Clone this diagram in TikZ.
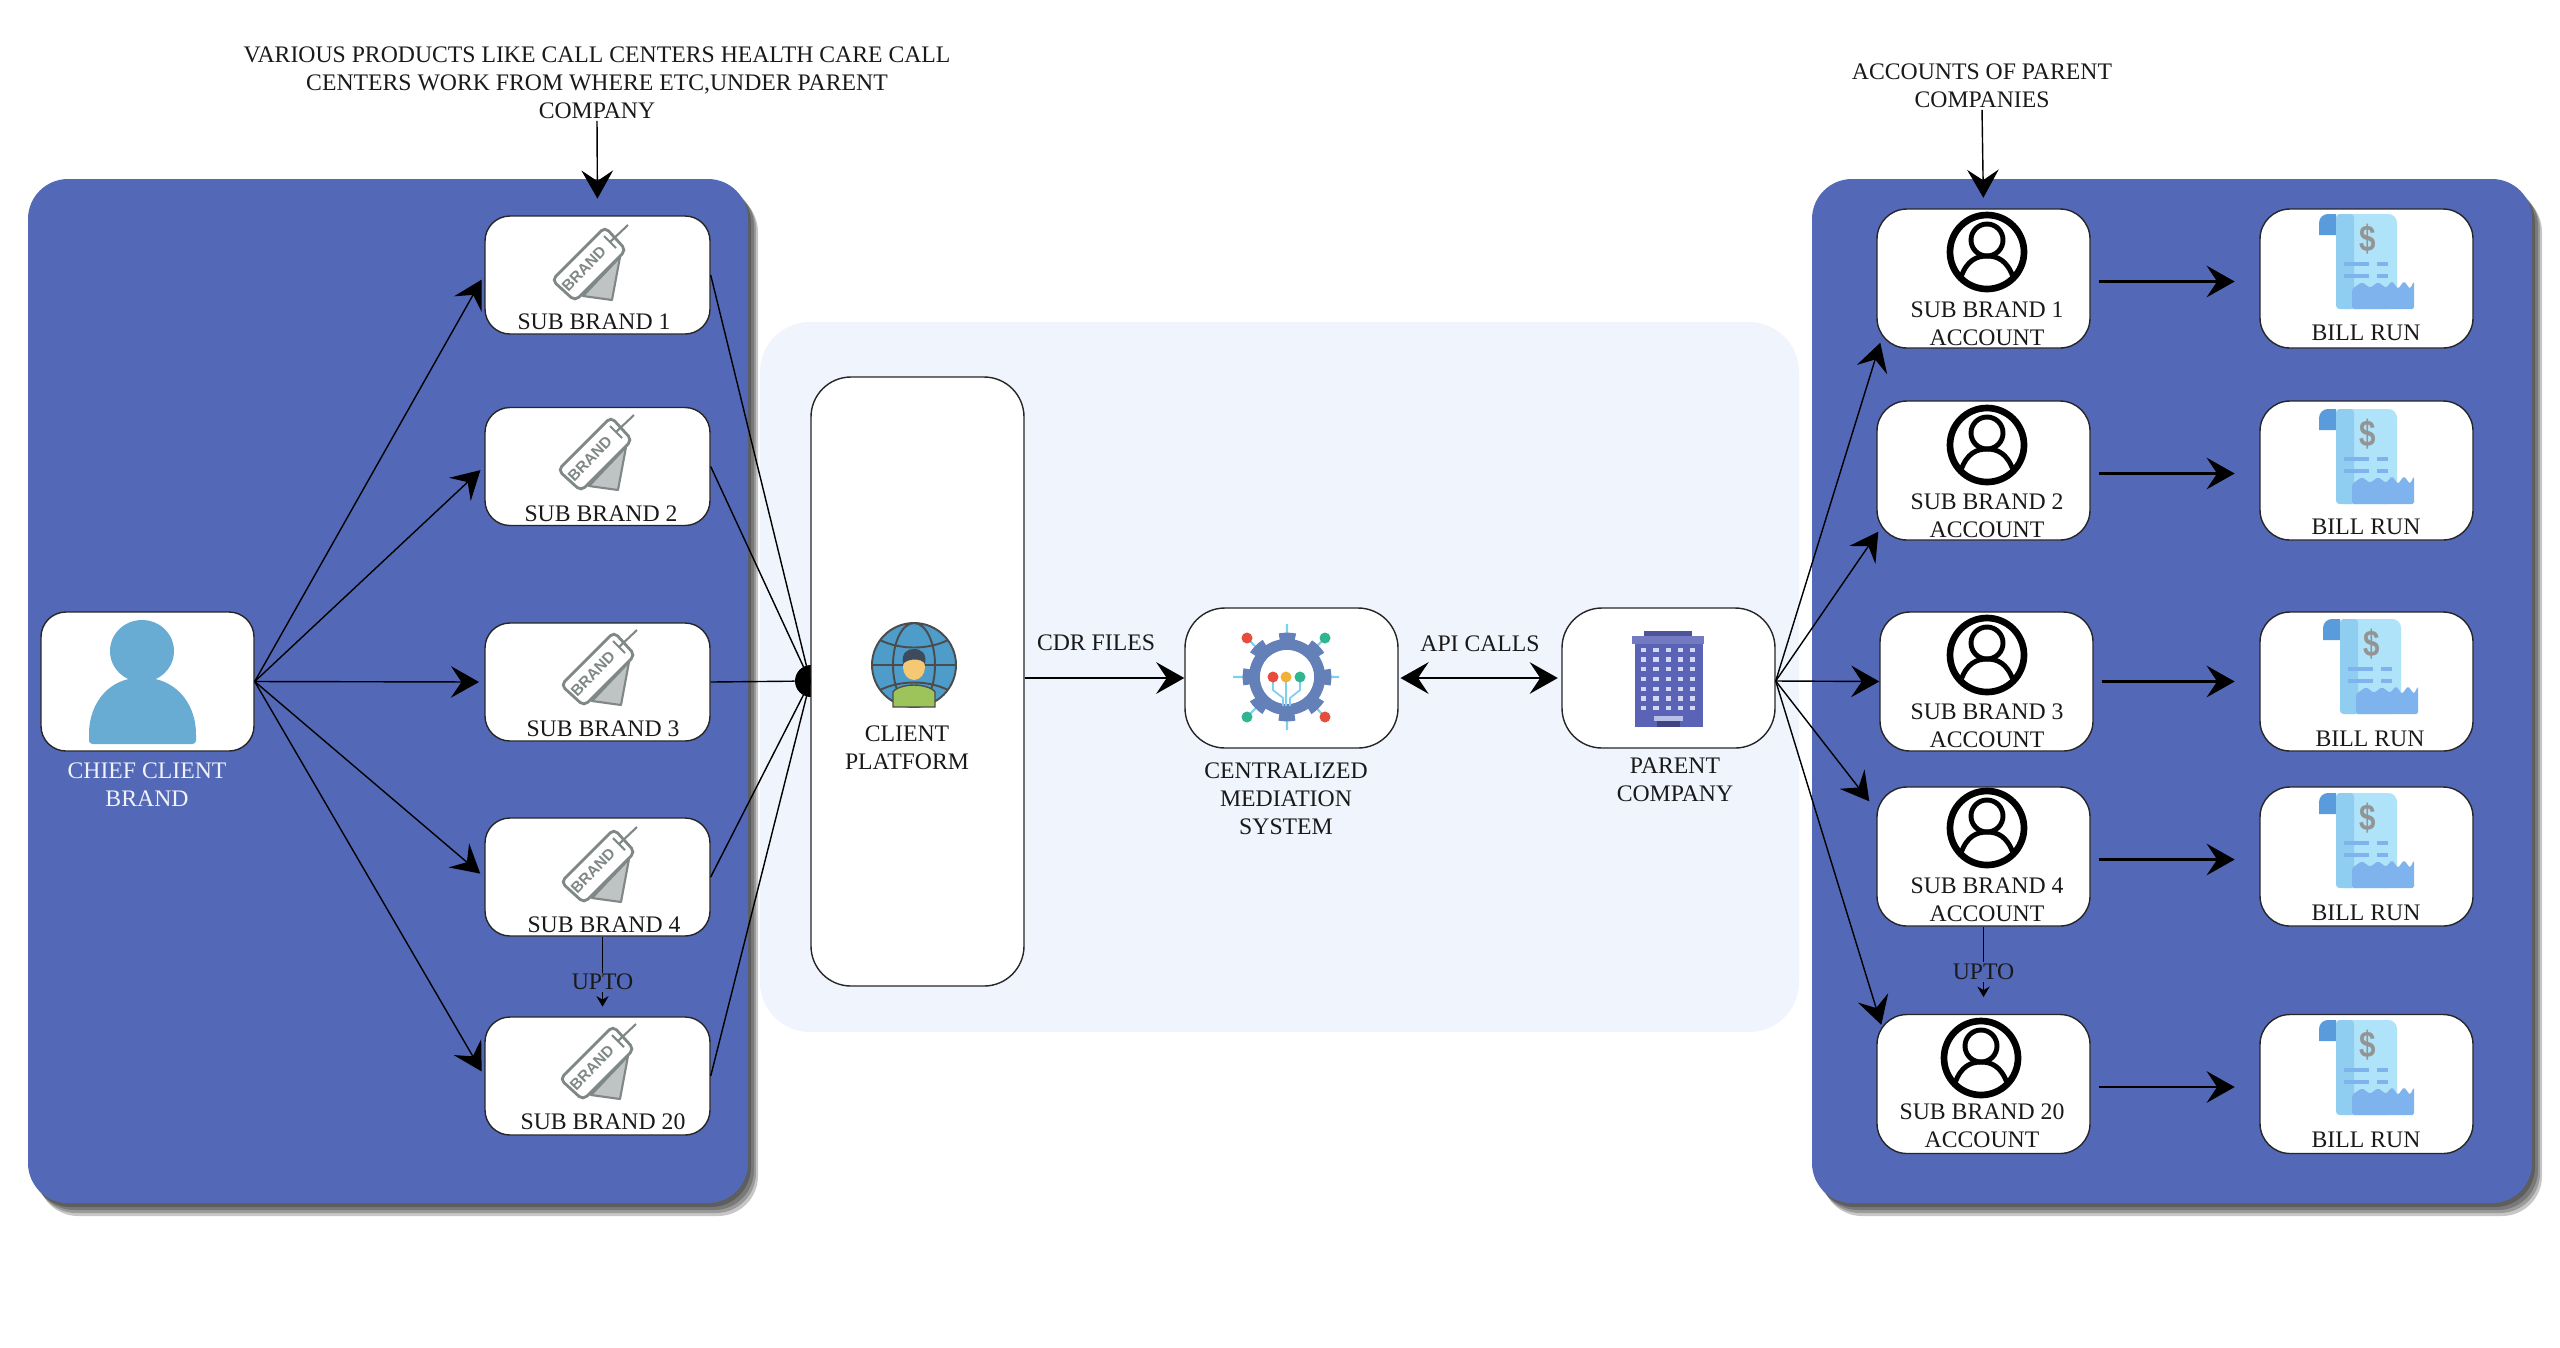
\documentclass[tikz,border=0pt]{standalone}
\usepackage{fontspec}
\setmainfont{Liberation Serif}
\setsansfont{Liberation Sans}
\usetikzlibrary{arrows.meta}
\newcommand{\Px}{0.02cm}
\definecolor{PanelBlue}{HTML}{5369B7}
\definecolor{PalePanel}{HTML}{EFF4FD}
\definecolor{TagGrey}{HTML}{7F8787}
\definecolor{PersonBlue}{HTML}{68ACD4}
\definecolor{Paper}{HTML}{AEE3F9}
\definecolor{PaperDark}{HTML}{8FCEF1}
\definecolor{PaperEdge}{HTML}{7FB3EE}
\definecolor{CurlBlue}{HTML}{5A9BDC}
\definecolor{GearBlue}{HTML}{6480B8}
\definecolor{Tower}{HTML}{5B63B7}
\definecolor{GlobeBlue}{HTML}{4E9CC9}
\definecolor{ShirtGreen}{HTML}{9CC45A}
\definecolor{Skin}{HTML}{F7C873}
\definecolor{Hair}{HTML}{3D4C5C}
\definecolor{TraceBlue}{HTML}{7FD0EE}
\definecolor{DotRed}{HTML}{E74C3C}
\definecolor{DotYellow}{HTML}{F2B134}
\definecolor{DotGreen}{HTML}{2FB58F}
\definecolor{WindowPale}{HTML}{D3D9F4}
\definecolor{DoorPale}{HTML}{B9C0E8}
\tikzset{
  Panel/.style={fill=PanelBlue, draw=none, rounded corners=0.8cm, minimum width=720*\Px, minimum height=1024*\Px},
  Shade/.style={fill=black, draw=none, opacity=0.22, rounded corners=0.8cm, minimum width=720*\Px, minimum height=1024*\Px},
  Card/.style={draw=black!85, line width=0.8pt, fill=white, rounded corners=0.5cm, minimum width=225*\Px, minimum height=118*\Px, inner sep=0pt},
  AccountCard/.style={Card, rounded corners=0.6cm, minimum width=213*\Px, minimum height=139*\Px},
  BigCard/.style={Card, rounded corners=0.8cm, minimum width=213*\Px, minimum height=140*\Px},
  Caption/.style={font=\fontsize{13.5}{16}\selectfont, align=center, text=black!90, inner sep=0pt, yshift=-1pt},
  Link/.style={draw=black, line width=0.8pt},
  Arrow/.style={Link, -{Stealth[length=16pt,width=18pt,inset=6pt]}, shorten >=3pt},
  BoldArrow/.style={Arrow, line width=1.3pt, shorten <=4.5pt, shorten >=14pt},
  UptoArrow/.style={Link, -{Stealth[length=6pt,width=7pt,inset=2pt]}},
  BrandTag/.pic={
    \draw[fill=TagGrey!50, draw=TagGrey, line width=1.2pt, line join=round] (30,-6) -- (-7,33) -- (22,37) -- cycle;
    \draw[fill=white, draw=TagGrey, line width=1.6pt, rounded corners=3pt] (-38,17) -- (-15,38) -- (36,-13) -- (15,-36) -- cycle;
    \draw[TagGrey, line width=1.2pt] (20,-21) -- (38,-38) (14,-27) -- (26,-15);
    \node[rotate=46, inner sep=0pt, text=TagGrey, font=\fontsize{8.8}{9}\bfseries\sffamily\selectfont] (-word) at (-6,6) {BRAND};
  },
  AccountMan/.pic={
    \draw[line width=3.8pt] (0,0) circle[radius=37];
    \draw[line width=2.8pt] (0,-12) ellipse[x radius=16, y radius=16];
    \draw[line width=2.8pt] (-26,25) .. controls (-20,8) and (-10,4) .. (0,4) .. controls (10,4) and (20,8) .. (26,25);
  },
  BillIcon/.pic={
    \fill[CurlBlue] (-47,-26) -- (-47,-38) .. controls (-47,-44) and (-42,-47) .. (-38,-47) -- (-30,-47) -- (-30,-26) -- cycle;
    \fill[Paper, rounded corners=5pt] (-30,-47) -- (31,-47) -- (31,48) -- (-30,48) -- cycle;
    \fill[PaperDark, rounded corners=2pt] (-30,-47) -- (-12,-47) -- (-12,48) -- (-30,48) -- cycle;
    \fill[PaperEdge, rounded corners=1pt] (-14,48) -- (48,48) -- (48,20) -- (44,28) -- (38,20) -- (32,28) -- (26,20) -- (20,27) -- (12,21) -- (4,27) -- (-4,21) -- (-14,28) -- cycle;
    \node[inner sep=0pt, text=black!42, xscale=0.8, font=\fontsize{21}{21}\bfseries\sffamily\selectfont] (-dollar) at (2,-22) {\$};
    \draw[PaperEdge, line width=2.2pt] (-22,3) -- (3,3) (11,3) -- (22,3) (-22,15) -- (3,15) (11,15) -- (22,15);
  },
}
\begin{document}
\begin{tikzpicture}[x=\Px, y=-\Px]
    \useasboundingbox (0,0) rectangle (2560,1347);

    \fill[PalePanel, rounded corners=1cm] (760,322) rectangle (1799,1032);

    \node[Shade] (shadeLa) at (391,695) {};
    \node[Shade] (shadeLb) at (394,698) {};
    \node[Shade] (shadeLc) at (396,701) {};
    \node[Shade] (shadeLd) at (398,704) {};
    \node[Panel] (leftPanel) at (388,691) {};
    \node[Shade] (shadeRa) at (2175,695) {};
    \node[Shade] (shadeRb) at (2178,698) {};
    \node[Shade] (shadeRc) at (2180,701) {};
    \node[Shade] (shadeRd) at (2182,704) {};
    \node[Panel] (rightPanel) at (2172,691) {};

    \node[circle, fill=black, minimum size=32*\Px, inner sep=0pt] (hub) at (811,681) {};

    % left side
    \node[Card, minimum width=213*\Px, minimum height=139*\Px] (chief) at (147.5,681.5) {};
    \fill[PersonBlue] (142,651) ellipse[x radius=32, y radius=31];
    \fill[PersonBlue, rounded corners=2pt] (89,744) -- (89,738) .. controls (89,700) and (112,678) .. (142,678) .. controls (172,678) and (196,700) .. (196,738) -- (196,744) -- cycle;
    \node[Caption, text=white!92!PanelBlue] (chiefText) at (147,783) {CHIEF CLIENT\\BRAND};

    \node[Card] (sub1) at (597.5,275) {};
    \node[Card] (sub2) at (597.5,466.5) {};
    \node[Card] (sub3) at (597.5,682) {};
    \node[Card] (sub4) at (597.5,877) {};
    \node[Card] (sub20) at (597.5,1076) {};
    \pic (tag1) at (590,263) {BrandTag};
    \pic (tag2) at (596,453) {BrandTag};
    \pic (tag3) at (599,668) {BrandTag};
    \pic (tag4) at (599,865) {BrandTag};
    \pic (tag20) at (598,1062) {BrandTag};
    \node[Caption] (subText1) at (594,320) {SUB BRAND 1};
    \node[Caption] (subText2) at (601,512) {SUB BRAND 2};
    \node[Caption] (subText3) at (603,727) {SUB BRAND 3};
    \node[Caption] (subText4) at (604,923) {SUB BRAND 4};
    \node[Caption] (subText20) at (603,1120) {SUB BRAND 20};

    \draw[Arrow] (chief.east) -- (sub1.west);
    \draw[Arrow] (chief.east) -- (sub2.west);
    \draw[Arrow] (chief.east) -- (sub3.west);
    \draw[Arrow] (chief.east) -- (sub4.west);
    \draw[Arrow] (chief.east) -- (sub20.west);
    \draw[UptoArrow, shorten >=5.5pt] ([shift={(5,0)}]sub4.south) -- node[Caption, fill=PanelBlue, pos=0.55, inner sep=1pt] (uptoLeft) {UPTO} ([shift={(5,0)}]sub20.north);

    \node[Caption] (noteLeft) at (597,81) {VARIOUS PRODUCTS LIKE CALL CENTERS HEALTH CARE CALL\\CENTERS WORK FROM WHERE ETC,UNDER PARENT\\COMPANY};
    \draw[Arrow, shorten <=1pt, shorten >=9.5pt] (noteLeft.south) -- (sub1.north);

    % middle
    \node[Card, rounded corners=0.8cm, minimum width=213*\Px, minimum height=609*\Px] (platform) at (917.5,681.5) {};
    \draw[Link] (sub1.east) -- (platform.west);
    \draw[Link] (sub2.east) -- (platform.west);
    \draw[Link] (sub3.east) -- (hub);
    \draw[Link] (sub4.east) -- (platform.west);
    \draw[Link] (sub20.east) -- (platform.west);

    \fill[GlobeBlue] (914,665) circle[radius=42];
    \draw[black!70, line width=1.1pt] (914,665) circle[radius=42] (914,665) ellipse[x radius=21, y radius=42] (872,665) -- (956,665);
    \draw[black!70, line width=1.1pt] (880,640) .. controls (900,650) and (928,650) .. (948,640) (880,690) .. controls (900,680) and (928,680) .. (948,690);
    \fill[ShirtGreen, draw=black!70, line width=0.8pt] (893,707) -- (893,692) .. controls (895,688) and (905,685) .. (914,685) .. controls (923,685) and (933,688) .. (935,692) -- (935,707) -- cycle;
    \fill[Skin] (914,667) ellipse[x radius=11, y radius=13];
    \fill[Hair] (903,664) .. controls (901,652) and (908,649) .. (914,649) .. controls (922,649) and (927,654) .. (925,664) .. controls (922,658) and (908,658) .. (903,664) -- cycle;
    \node[Caption] (platformText) at (907,746) {CLIENT\\PLATFORM};

    \node[BigCard] (mediation) at (1291.5,678) {};
    \draw[TraceBlue, line width=1.2pt] (1287,624) -- (1287,730) (1233,677) -- (1339,677) (1247,638) -- (1325,717) (1325,638) -- (1247,717);
    \draw[GearBlue, line width=6.4pt] (1287,677) circle[radius=32.5];
    \draw[GearBlue, line width=5pt, dash pattern=on 9pt off 8.9pt, dash phase=4.5pt] (1287,677) circle[radius=40];
    \fill[white] (1287,677) circle[radius=27];
    \draw[TraceBlue, line width=1pt] (1273,677) -- (1273,690) -- (1283,698) -- (1283,706) (1286,677) -- (1286,706) (1300,677) -- (1300,690) -- (1290,698) -- (1290,706);
    \fill[DotRed] (1273,677) circle[radius=5.5] (1247,638) circle[radius=5.5] (1325,717) circle[radius=5.5];
    \fill[DotYellow] (1286,677) circle[radius=5.5];
    \fill[DotGreen] (1300,677) circle[radius=5.5] (1325,638) circle[radius=5.5] (1247,717) circle[radius=5.5];
    \node[Caption] (mediationText) at (1286,797) {CENTRALIZED\\MEDIATION\\SYSTEM};

    \node[BigCard] (parent) at (1668.5,678) {};
    \fill[Tower] (1635,640) rectangle (1703,727);
    \fill[Tower!85!black] (1644,631) rectangle (1692,637);
    \fill[Tower!85] (1632,636) rectangle (1704,644);
    \draw[WindowPale, line width=2.6pt, dash pattern=on 3pt off 4pt] (1641,650) -- (1698,650) (1641,659.5) -- (1698,659.5) (1641,669) -- (1698,669) (1641,679) -- (1698,679) (1641,689) -- (1698,689) (1641,698.5) -- (1698,698.5) (1641,708) -- (1698,708);
    \fill[DoorPale] (1654,716) rectangle (1683,721);
    \fill[Tower!70!black] (1657,721) rectangle (1680,727);
    \node[Caption] (parentText) at (1675,778) {PARENT\\COMPANY};

    \node[Caption] (cdrText) at (1096,641) {CDR FILES};
    \node[Caption] (apiText) at (1480,642) {API CALLS};
    \draw[Arrow, line width=1.1pt, shorten >=0pt] (platform.east |- mediation.west) -- (mediation.west);
    \draw[Arrow, {Stealth[length=16pt,width=18pt,inset=6pt]}-{Stealth[length=16pt,width=18pt,inset=6pt]}, line width=1.1pt, shorten <=1pt, shorten >=2pt] (mediation.east) -- (parent.west);

    % right side
    \node[AccountCard] (acc1) at (1983.5,278.5) {};
    \node[AccountCard] (acc2) at (1983.5,470.5) {};
    \node[AccountCard] (acc3) at (1986.5,681.5) {};
    \node[AccountCard] (acc4) at (1983.5,856.5) {};
    \node[AccountCard] (acc20) at (1983.5,1084) {};
    \pic (man1) at (1987,252) {AccountMan};
    \pic (man2) at (1987,445) {AccountMan};
    \pic (man3) at (1987,655) {AccountMan};
    \pic (man4) at (1987,828) {AccountMan};
    \pic (man20) at (1981,1058) {AccountMan};
    \node[Caption] (accText1) at (1987,322) {SUB BRAND 1\\ACCOUNT};
    \node[Caption] (accText2) at (1987,514) {SUB BRAND 2\\ACCOUNT};
    \node[Caption] (accText3) at (1987,724) {SUB BRAND 3\\ACCOUNT};
    \node[Caption] (accText4) at (1987,898) {SUB BRAND 4\\ACCOUNT};
    \node[Caption] (accText20) at (1982,1124) {SUB BRAND 20\\ACCOUNT};

    \node[AccountCard] (bill1) at (2366.5,278.5) {};
    \node[AccountCard] (bill2) at (2366.5,470.5) {};
    \node[AccountCard] (bill3) at (2366.5,681.5) {};
    \node[AccountCard] (bill4) at (2366.5,856.5) {};
    \node[AccountCard] (bill20) at (2366.5,1084) {};
    \pic (scroll1) at (2366,261) {BillIcon};
    \pic (scroll2) at (2366,456) {BillIcon};
    \pic (scroll3) at (2370,666) {BillIcon};
    \pic (scroll4) at (2366,840) {BillIcon};
    \pic (scroll20) at (2366,1067) {BillIcon};
    \node[Caption] (billText1) at (2366,331) {BILL RUN};
    \node[Caption] (billText2) at (2366,525) {BILL RUN};
    \node[Caption] (billText3) at (2370,737) {BILL RUN};
    \node[Caption] (billText4) at (2366,911) {BILL RUN};
    \node[Caption] (billText20) at (2366,1138) {BILL RUN};

    \draw[BoldArrow] ([shift={(0,3)}]acc1.east) -- ([shift={(0,3)}]bill1.west);
    \draw[BoldArrow] ([shift={(0,3)}]acc2.east) -- ([shift={(0,3)}]bill2.west);
    \draw[BoldArrow] (acc3.east) -- (bill3.west);
    \draw[BoldArrow] ([shift={(0,3)}]acc4.east) -- ([shift={(0,3)}]bill4.west);
    \draw[BoldArrow] ([shift={(0,3)}]acc20.east) -- ([shift={(0,3)}]bill20.west);

    \draw[Arrow, shorten >=0pt] ([shift={(0,3)}]parent.east) -- ([shift={(4,-6)}]acc1.south west);
    \draw[Arrow, shorten >=0pt] ([shift={(0,3)}]parent.east) -- ([shift={(2,-9)}]acc2.south west);
    \draw[Arrow, shorten >=0pt] ([shift={(0,3)}]parent.east) -- (acc3.west);
    \draw[Arrow, shorten >=0pt] ([shift={(0,3)}]parent.east) -- ([shift={(-7,15)}]acc4.north west);
    \draw[Arrow, shorten >=0pt] ([shift={(0,3)}]parent.east) -- ([shift={(5,11)}]acc20.north west);
    \draw[UptoArrow, shorten >=9.5pt] (acc4.south) -- node[Caption, fill=PanelBlue, pos=0.5, inner sep=1pt] (uptoRight) {UPTO} (acc20.north);

    \node[Caption] (noteRight) at (1982,84) {ACCOUNTS OF PARENT\\COMPANIES};
    \draw[Arrow, shorten <=1pt, shorten >=6pt] (noteRight.south) -- (acc1.north);
\end{tikzpicture}
\end{document}
